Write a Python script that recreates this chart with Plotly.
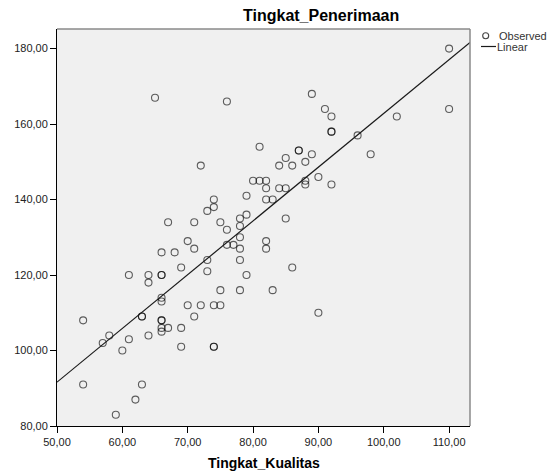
import numpy as np
import plotly.graph_objects as go

# Data (Tingkat_Kualitas vs Tingkat_Penerimaan)
kualitas = [54, 54, 57, 58, 59, 60, 61, 61, 62, 63, 63, 63, 64, 64, 64, 65,
            66, 66, 66, 66, 66, 66, 66, 66, 66, 67, 67, 68, 69, 69, 69,
            70, 70, 71, 71, 71, 72, 72, 73, 73, 73, 74, 74, 74, 74, 74,
            75, 75, 75, 76, 76, 76, 77, 78, 78, 78, 78, 78, 78, 79, 79, 79,
            80, 81, 81, 82, 82, 82, 82, 82, 83, 83, 84, 84, 85, 85, 85,
            86, 86, 87, 87, 88, 88, 88, 89, 89, 90, 90, 91, 92, 92, 92, 92,
            96, 98, 102, 110, 110]
penerimaan = [108, 91, 102, 104, 83, 100, 120, 103, 87, 91, 109, 109, 120, 118, 104, 167,
              126, 120, 120, 114, 113, 108, 108, 106, 105, 106, 134, 126, 122, 106, 101,
              129, 112, 134, 127, 109, 149, 112, 137, 124, 121, 140, 138, 112, 101, 101,
              134, 116, 112, 166, 132, 128, 128, 135, 133, 130, 127, 124, 116, 141, 136, 120,
              145, 154, 145, 145, 143, 140, 129, 127, 140, 116, 149, 143, 151, 143, 135,
              149, 122, 153, 153, 150, 145, 144, 168, 152, 146, 110, 164, 162, 158, 158, 144,
              157, 152, 162, 180, 164]

x_ticks = [50, 60, 70, 80, 90, 100, 110]
y_ticks = [80, 100, 120, 140, 160, 180]
x_range = [50, 113.2]
y_range = [80, 185.2]


def fmt(v):
    return f"{v:.2f}".replace(".", ",")


slope, intercept = np.polyfit(kualitas, penerimaan, 1)
line_x = np.array(x_range)
line_y = intercept + slope * line_x

font = "Liberation Sans, Arial, sans-serif"

# plot area in window pixels: left 57, right 470, top 29, bottom 426
PL, PR, PT, PB = 57, 470, 29, 426
PW, PH = PR - PL, PB - PT


def px(xw):
    return (xw - PL) / PW


def py(yw):
    return (PB - yw) / PH


fig = go.Figure()
fig.add_trace(go.Scatter(
    x=kualitas, y=penerimaan, mode="markers", name="Observed",
    marker=dict(symbol="circle-open", size=7, color="rgba(0,0,0,0.62)",
                line=dict(width=1.1)),
    showlegend=False, cliponaxis=False,
))
fig.add_trace(go.Scatter(
    x=line_x, y=line_y, mode="lines", name="Linear",
    line=dict(color="#1a1a1a", width=1.2), showlegend=False,
))

# page body has an 8px margin: shrink the figure by 8px and shift margins
OFF = 8
fig.update_layout(
    width=555 - OFF, height=471 - OFF,
    margin=dict(l=PL - OFF, r=555 - PR, t=PT - OFF, b=471 - PB, autoexpand=False),
    paper_bgcolor="white", plot_bgcolor="#f0f0f0",
    font=dict(family=font, size=11, color="#222222"),
    xaxis=dict(range=x_range, tickvals=x_ticks, ticktext=[fmt(v) for v in x_ticks],
               ticks="outside", ticklen=6, tickcolor="black", showgrid=False,
               zeroline=False, showline=True, linecolor="black", linewidth=1,
               tickfont=dict(size=11, color="#222222")),
    yaxis=dict(range=y_range, tickvals=y_ticks, ticktext=[fmt(v) for v in y_ticks],
               ticks="outside", ticklen=6, tickcolor="black", showgrid=False,
               zeroline=False, showline=True, linecolor="black", linewidth=1,
               tickfont=dict(size=11, color="#222222")),
    shapes=[
        dict(type="line", xref="paper", yref="paper", x0=0, x1=1, y0=1, y1=1,
             line=dict(color="#8a8a8a", width=1.5)),
        dict(type="line", xref="paper", yref="paper", x0=1, x1=1, y0=0, y1=1,
             line=dict(color="#8a8a8a", width=1.5)),
        # legend glyphs
        dict(type="circle", xref="paper", yref="paper",
             x0=px(485.7 - 3), x1=px(485.7 + 3),
             y0=py(35.7 + 3), y1=py(35.7 - 3),
             line=dict(color="#444444", width=1.1)),
        dict(type="line", xref="paper", yref="paper",
             x0=px(481), x1=px(496), y0=py(46.5), y1=py(46.5),
             line=dict(color="#1a1a1a", width=1.2)),
    ],
    annotations=[
        dict(text="<b>Tingkat_Penerimaan</b>", xref="paper", yref="paper",
             x=px(321), y=py(15), showarrow=False,
             xanchor="center", yanchor="middle",
             font=dict(family=font, size=16, color="black")),
        dict(text="<b>Tingkat_Kualitas</b>", xref="paper", yref="paper",
             x=px(263.5), y=py(463), showarrow=False,
             xanchor="center", yanchor="middle",
             font=dict(family=font, size=14, color="black")),
        dict(text="Observed", xref="paper", yref="paper",
             x=px(497), y=py(35.7), showarrow=False,
             xanchor="left", yanchor="middle",
             font=dict(family=font, size=11, color="#333333")),
        dict(text="Linear", xref="paper", yref="paper",
             x=px(495), y=py(47), showarrow=False,
             xanchor="left", yanchor="middle",
             font=dict(family=font, size=11, color="#333333")),
    ],
)

fig.write_html("out.html")
